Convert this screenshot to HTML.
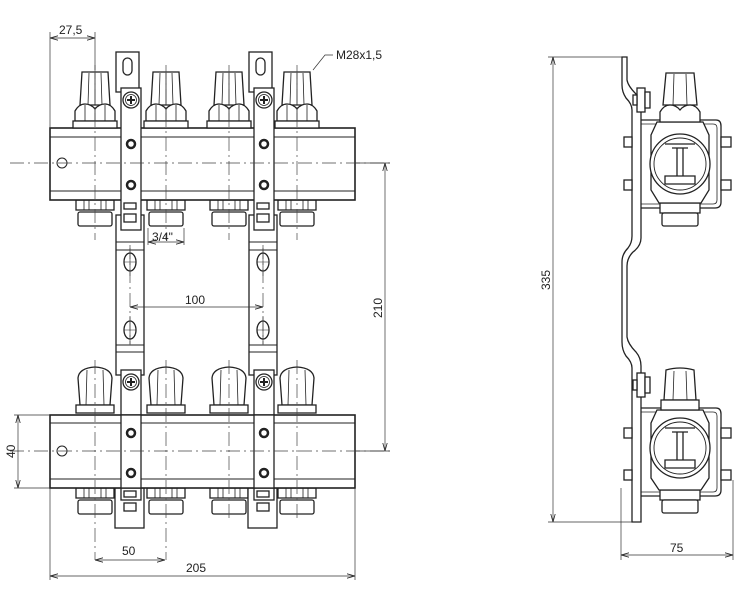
<!DOCTYPE html>
<html><head><meta charset="utf-8"><style>
html,body{margin:0;padding:0;background:#fff;}
svg{display:block;}
text{font-family:"Liberation Sans",sans-serif;font-size:12px;fill:#222;}
</style></head><body>
<svg width="747" height="594" viewBox="0 0 747 594" xmlns="http://www.w3.org/2000/svg">
<defs>
<marker id="a" markerWidth="8" markerHeight="6" refX="8" refY="3" orient="auto-start-reverse" markerUnits="userSpaceOnUse"><path d="M0,0.8 L8,3 L0,5.2" fill="none" stroke="#222" stroke-width="0.8"/></marker>
<g id="knobT" fill="#fff" stroke="#222" stroke-width="1.3">
 <path d="M-13,72 L13,72 L15,105 L-15,105 Z"/>
 <path d="M-6,73 L-7,105 M0,73 L0,105 M6,73 L7,105" stroke-width="0.8"/>
 <path d="M-20,121 L-20,111 Q-16,104 -10,104 Q-4,104 0,109 Q4,104 10,104 Q16,104 20,111 L20,121 Z"/>
 <path d="M-10,105 L-10,121 M10,105 L10,121 M0,109 L0,121" stroke-width="0.8"/>
 <rect x="-22" y="121" width="44" height="7"/>
</g>
<g id="knobB" fill="#fff" stroke="#222" stroke-width="1.3">
 <path d="M-15,405 L-17,378 Q-16,368 0,367 Q16,368 17,378 L15,405 Z"/>
 <path d="M-8,370 L-9,405 M8,370 L9,405" stroke-width="0.8"/>
 <rect x="-19" y="405" width="38" height="8"/>
</g>
<g id="fit" fill="#fff" stroke="#222" stroke-width="1.3">
 <rect x="-19" y="0" width="38" height="10"/>
 <path d="M-11,0 L-11,10 M11,0 L11,10 M-6,0 L-6,10 M6,0 L6,10" stroke-width="0.8"/>
 <rect x="-17" y="12" width="34" height="14" rx="2"/>
</g>
<g id="screw" stroke="#222" fill="#fff">
 <circle r="8" stroke-width="1.3"/><circle r="5.5" stroke-width="0.8"/>
 <path d="M-4,0 L4,0 M0,-4 L0,4" stroke-width="2"/>
</g>
<g id="dot"><circle r="4" fill="#fff" stroke="#222" stroke-width="2.5"/></g>
<g id="brkMid" fill="#fff" stroke="#222" stroke-width="1.3">
 <rect x="116" y="215" width="28" height="160"/>
 <path d="M116,242 L144,242 M116,250 L144,250 M116,345 L144,345 M116,352 L144,352" stroke-width="1"/>
 <ellipse cx="130" cy="262" rx="6" ry="9"/><ellipse cx="130" cy="330" rx="6" ry="9"/>
 <path d="M130,248 L130,276 M124,262 L136,262 M130,316 L130,344 M124,330 L136,330" stroke-width="0.6"/>
</g>
<g id="brkTop" fill="#fff" stroke="#222" stroke-width="1.3">
 <rect x="116" y="52" width="23" height="40"/>
 <rect x="123" y="58" width="9" height="17" rx="4.5"/>
 <rect x="121" y="88" width="20" height="142"/>
 <rect x="124" y="203" width="12" height="6"/>
 <rect x="124" y="214" width="12" height="8"/>
</g>
<g id="brkBot" fill="#fff" stroke="#222" stroke-width="1.3">
 <rect x="115" y="488" width="29" height="40"/>
 <rect x="121" y="370" width="20" height="130"/>
 <rect x="124" y="491" width="12" height="6"/>
 <rect x="124" y="503" width="12" height="8"/>
</g>
</defs>

<!-- middle strips -->
<use href="#brkMid"/>
<use href="#brkMid" transform="translate(133,0)"/>

<!-- top manifold -->
<g transform="translate(95,200)"><use href="#fit"/></g>
<g transform="translate(166,200)"><use href="#fit"/></g>
<g transform="translate(229,200)"><use href="#fit"/></g>
<g transform="translate(297,200)"><use href="#fit"/></g>
<rect x="50" y="128" width="305" height="72" fill="#fff" stroke="#222" stroke-width="1.6"/>
<path d="M50,137 L355,137 M50,191 L355,191" stroke="#222" stroke-width="1"/>
<circle cx="62" cy="163" r="5" fill="none" stroke="#222"/>
<use href="#brkTop"/><use href="#brkTop" transform="translate(133,0)"/>
<g transform="translate(131,100)"><use href="#screw"/></g>
<g transform="translate(264,100)"><use href="#screw"/></g>
<g transform="translate(131,144)"><use href="#dot"/></g>
<g transform="translate(131,185)"><use href="#dot"/></g>
<g transform="translate(264,144)"><use href="#dot"/></g>
<g transform="translate(264,185)"><use href="#dot"/></g>
<g transform="translate(95,0)"><use href="#knobT"/></g>
<g transform="translate(166,0)"><use href="#knobT"/></g>
<g transform="translate(229,0)"><use href="#knobT"/></g>
<g transform="translate(297,0)"><use href="#knobT"/></g>

<!-- bottom manifold -->
<g transform="translate(95,488)"><use href="#fit"/></g>
<g transform="translate(166,488)"><use href="#fit"/></g>
<g transform="translate(229,488)"><use href="#fit"/></g>
<g transform="translate(297,488)"><use href="#fit"/></g>
<use href="#brkBot"/><use href="#brkBot" transform="translate(133,0)"/>
<rect x="50" y="415" width="305" height="73" fill="#fff" stroke="#222" stroke-width="1.6"/>
<path d="M50,423 L355,423 M50,479 L355,479" stroke="#222" stroke-width="1"/>
<circle cx="62" cy="451" r="5" fill="none" stroke="#222"/>
<rect x="121" y="415" width="20" height="73" fill="#fff" stroke="#222" stroke-width="1.3"/>
<rect x="254" y="415" width="20" height="73" fill="#fff" stroke="#222" stroke-width="1.3"/>
<g transform="translate(131,382)"><use href="#screw"/></g>
<g transform="translate(264,382)"><use href="#screw"/></g>
<g transform="translate(131,433)"><use href="#dot"/></g>
<g transform="translate(131,473)"><use href="#dot"/></g>
<g transform="translate(264,433)"><use href="#dot"/></g>
<g transform="translate(264,473)"><use href="#dot"/></g>
<g transform="translate(95,0)"><use href="#knobB"/></g>
<g transform="translate(166,0)"><use href="#knobB"/></g>
<g transform="translate(229,0)"><use href="#knobB"/></g>
<g transform="translate(297,0)"><use href="#knobB"/></g>

<!-- center lines -->
<g stroke="#444" stroke-width="0.7" stroke-dasharray="14,4,2,4" fill="none">
 <path d="M10,163 L390,163 M10,451 L390,451"/>
 <path d="M95,65 L95,240 M166,65 L166,240 M229,65 L229,240 M297,65 L297,240"/>
 <path d="M95,360 L95,560 M166,360 L166,560 M229,360 L229,520 M297,360 L297,520"/>
 <path d="M130,245 L130,345 M263,245 L263,345"/>
</g>

<!-- dimensions left -->
<g stroke="#333" stroke-width="0.7" fill="none">
 <path d="M50,32 L50,128 M95,32 L95,70"/>
 <path d="M50,38 L95,38" marker-start="url(#a)" marker-end="url(#a)"/>
 <path d="M313,70 L325,55 L333,55"/>
 <path d="M148,228 L148,245 M184,228 L184,245"/>
 <path d="M148,242 L184,242" marker-start="url(#a)" marker-end="url(#a)"/>
 <path d="M130,307 L263,307" marker-start="url(#a)" marker-end="url(#a)"/>
 <path d="M355,163 L390,163 M355,451 L390,451"/>
 <path d="M385,163 L385,451" marker-start="url(#a)" marker-end="url(#a)"/>
 <path d="M14,415 L50,415 M14,488 L50,488"/>
 <path d="M18,415 L18,488" marker-start="url(#a)" marker-end="url(#a)"/>
 <path d="M95,560 L165,560" marker-start="url(#a)" marker-end="url(#a)"/>
 <path d="M50,488 L50,580 M355,488 L355,580"/>
 <path d="M50,576 L355,576" marker-start="url(#a)" marker-end="url(#a)"/>
</g>
<text x="59" y="34">27,5</text>
<text x="336" y="59">M28x1,5</text>
<text x="152" y="241">3/4"</text>
<text x="185" y="304">100</text>
<text transform="translate(382,318) rotate(-90)">210</text>
<text transform="translate(15,458) rotate(-90)">40</text>
<text x="122" y="555">50</text>
<text x="186" y="572">205</text>

<!-- right view -->
<g fill="#fff" stroke="#222" stroke-width="1.3">
 <!-- plate -->
 <path d="M622,57 L627,57 L627,80 Q628,86 636,94 Q641,100 641,108 L641,238 Q641,246 633,252 Q627,258 627,266 L627,337 Q628,344 636,352 Q641,358 641,366 L641,522 L632,522 L632,368 Q632,362 626,356 Q622,350 622,342 L622,262 Q622,254 628,248 Q632,243 632,236 L632,110 Q632,104 626,98 Q622,92 622,85 Z"/>
 <!-- upper valve -->
 <path d="M641,120 L716,120 Q721,120 721,126 L721,202 Q721,208 715,208 L641,208" fill="none"/>
 <path d="M641,124 L713,124 Q717,124 717,128 L717,200 Q717,204 713,204 L641,204" fill="none" stroke-width="0.8"/>
 <rect x="637" y="88" width="8" height="24"/><rect x="645" y="92" width="5" height="16"/><rect x="633" y="95" width="4" height="10"/>
 <rect x="624" y="137" width="8" height="10"/><rect x="624" y="180" width="8" height="10"/>
 <rect x="721" y="137" width="10" height="10"/><rect x="721" y="180" width="10" height="10"/>
 <rect x="660" y="203" width="40" height="10"/><rect x="662" y="213" width="36" height="13" rx="2"/>
 <path d="M657,122 L703,122 L709,135 L709,190 L701,203 L659,203 L651,190 L651,135 Z"/>
 <circle cx="680" cy="164" r="30"/><circle cx="680" cy="164" r="26" stroke-width="0.9"/>
 <path d="M665,144 L695,144 M672,148 L688,148 M677,148 L677,176 M683,148 L683,176 M665,176 L695,176 L695,184 L665,184 Z"/>
 <path d="M666,73 L694,73 L697,105 L663,105 Z"/>
 <path d="M674,74 L673,105 M686,74 L687,105" stroke-width="0.8"/>
 <path d="M660,122 L660,112 Q664,105 670,105 Q676,105 680,110 Q684,105 690,105 Q696,105 700,112 L700,122 Z"/>
 <!-- lower valve -->
 <path d="M641,408 L716,408 Q721,408 721,414 L721,490 Q721,496 715,496 L641,496" fill="none"/>
 <path d="M641,412 L713,412 Q717,412 717,416 L717,488 Q717,492 713,492 L641,492" fill="none" stroke-width="0.8"/>
 <rect x="637" y="373" width="8" height="24"/><rect x="645" y="377" width="5" height="16"/><rect x="633" y="380" width="4" height="10"/>
 <rect x="624" y="428" width="8" height="10"/><rect x="624" y="470" width="8" height="10"/>
 <rect x="721" y="428" width="10" height="10"/><rect x="721" y="470" width="10" height="10"/>
 <rect x="660" y="490" width="40" height="10"/><rect x="662" y="500" width="36" height="13" rx="2"/>
 <path d="M657,410 L703,410 L709,423 L709,478 L701,490 L659,490 L651,478 L651,423 Z"/>
 <circle cx="680" cy="448" r="30"/><circle cx="680" cy="448" r="26" stroke-width="0.9"/>
 <path d="M665,428 L695,428 M672,432 L688,432 M677,432 L677,460 M683,432 L683,460 M665,460 L695,460 L695,468 L665,468 Z"/>
 <path d="M666,370 Q680,366 694,370 L696,400 L664,400 Z"/>
 <path d="M674,371 L673,400 M686,371 L687,400" stroke-width="0.8"/>
 <rect x="661" y="400" width="38" height="10"/>
</g>
<g stroke="#333" stroke-width="0.7" fill="none">
 <path d="M548,57 L622,57 M548,522 L632,522"/>
 <path d="M553,57 L553,522" marker-start="url(#a)" marker-end="url(#a)"/>
 <path d="M621,488 L621,560 M733,480 L733,560"/>
 <path d="M621,555 L733,555" marker-start="url(#a)" marker-end="url(#a)"/>
</g>
<text transform="translate(550,290) rotate(-90)">335</text>
<text x="670" y="552">75</text>
</svg>
</body></html>
